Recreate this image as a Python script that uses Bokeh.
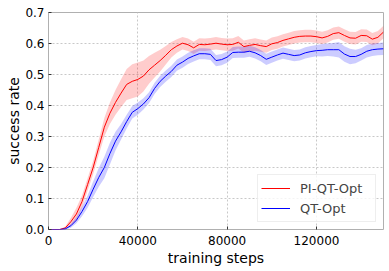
import numpy as np
from bokeh.plotting import figure
from bokeh.models import ColumnDataSource, FixedTicker, NumeralTickFormatter, Legend, LegendItem, Range1d
from bokeh.embed import file_html
from bokeh.resources import INLINE

steps = list(range(0, 150001, 2500))

pi_qt_opt_mean = [0.0, 0.0, 0.0, 0.005, 0.025, 0.05, 0.09, 0.145, 0.2, 0.265,
                  0.33, 0.375, 0.41, 0.44, 0.468, 0.478, 0.484, 0.495, 0.515, 0.53,
                  0.545, 0.562, 0.58, 0.592, 0.601, 0.596, 0.586, 0.597, 0.596, 0.598,
                  0.601, 0.598, 0.596, 0.597, 0.604, 0.59, 0.594, 0.597, 0.593, 0.59,
                  0.599, 0.603, 0.61, 0.615, 0.62, 0.623, 0.624, 0.624, 0.622, 0.618,
                  0.623, 0.632, 0.635, 0.626, 0.618, 0.617, 0.626, 0.625, 0.614, 0.62,
                  0.637]
pi_qt_opt_err = [0.0, 0.0, 0.0, 0.005, 0.012, 0.02, 0.02, 0.02, 0.022, 0.025,
                 0.03, 0.035, 0.04, 0.045, 0.05, 0.055, 0.055, 0.05, 0.045, 0.04,
                 0.035, 0.03, 0.025, 0.022, 0.02, 0.02, 0.02, 0.02, 0.02, 0.02,
                 0.02, 0.02, 0.02, 0.02, 0.02, 0.02, 0.02, 0.02, 0.02, 0.02,
                 0.02, 0.02, 0.02, 0.02, 0.02, 0.02, 0.02, 0.02, 0.02, 0.02,
                 0.02, 0.02, 0.02, 0.02, 0.02, 0.02, 0.02, 0.02, 0.02, 0.02,
                 0.02]
qt_opt_mean = [0.0, 0.0, 0.0, 0.002, 0.012, 0.03, 0.058, 0.09, 0.13, 0.168,
               0.2, 0.245, 0.285, 0.315, 0.348, 0.378, 0.39, 0.405, 0.425, 0.455,
               0.478, 0.495, 0.51, 0.53, 0.54, 0.552, 0.56, 0.567, 0.567, 0.565,
               0.545, 0.548, 0.556, 0.571, 0.572, 0.572, 0.575, 0.57, 0.561, 0.549,
               0.556, 0.563, 0.569, 0.565, 0.561, 0.563, 0.57, 0.574, 0.577, 0.578,
               0.58, 0.58, 0.58, 0.566, 0.558, 0.558, 0.565, 0.575, 0.58, 0.582,
               0.583]
qt_opt_err = [0.0, 0.0, 0.0, 0.003, 0.006, 0.01, 0.015, 0.02, 0.025, 0.03,
              0.035, 0.035, 0.03, 0.025, 0.022, 0.02, 0.02, 0.018, 0.018, 0.018,
              0.018, 0.018, 0.018, 0.018, 0.018, 0.018, 0.018, 0.018, 0.018, 0.018,
              0.018, 0.018, 0.018, 0.018, 0.018, 0.018, 0.018, 0.018, 0.018, 0.018,
              0.018, 0.018, 0.018, 0.018, 0.018, 0.018, 0.018, 0.018, 0.018, 0.02,
              0.02, 0.022, 0.025, 0.025, 0.025, 0.022, 0.02, 0.02, 0.02, 0.02,
              0.02]

x_ticks = [0, 40000, 80000, 120000]
y_ticks = [0.0, 0.1, 0.2, 0.3, 0.4, 0.5, 0.6, 0.7]

FONT = "DejaVu Sans"

src = ColumnDataSource(dict(
    x=steps,
    r=pi_qt_opt_mean,
    r_lo=[m - e for m, e in zip(pi_qt_opt_mean, pi_qt_opt_err)],
    r_hi=[m + e for m, e in zip(pi_qt_opt_mean, pi_qt_opt_err)],
    b=qt_opt_mean,
    b_lo=[m - e for m, e in zip(qt_opt_mean, qt_opt_err)],
    b_hi=[m + e for m, e in zip(qt_opt_mean, qt_opt_err)],
))

p = figure(width=389, height=271, output_backend="svg", toolbar_location=None,
           x_range=Range1d(0, 150000), y_range=Range1d(0, 0.7),
           min_border_left=48, min_border_right=6, min_border_top=12, min_border_bottom=42)

p.varea(x="x", y1="r_lo", y2="r_hi", source=src, fill_color="red", fill_alpha=0.2)
p.varea(x="x", y1="b_lo", y2="b_hi", source=src, fill_color="blue", fill_alpha=0.2)
lr = p.line(x="x", y="r", source=src, line_color="red", line_width=1)
lb = p.line(x="x", y="b", source=src, line_color="blue", line_width=1)

p.xaxis.ticker = FixedTicker(ticks=x_ticks)
p.yaxis.ticker = FixedTicker(ticks=y_ticks)
p.yaxis.formatter = NumeralTickFormatter(format="0.0")
p.xaxis.formatter = NumeralTickFormatter(format="0")
p.xaxis.axis_label = "training steps"
p.yaxis.axis_label = "success rate"

for ax in (p.xaxis, p.yaxis):
    ax.axis_label_text_font = FONT
    ax.axis_label_text_font_size = "14px"
    ax.axis_label_text_font_style = "normal"
    ax.axis_label_text_color = "#000000"
    ax.major_label_text_font = FONT
    ax.major_label_text_font_size = "12px"
    ax.major_label_text_color = "#000000"
    ax.axis_line_color = None
    ax.major_tick_in = 3
    ax.major_tick_out = 0
    ax.major_tick_line_color = "#333333"
    ax.minor_tick_line_color = None
p.xaxis.major_label_standoff = 6
p.xaxis.axis_label_standoff = 2
p.yaxis.major_label_standoff = 4
p.yaxis.axis_label_standoff = 0

p.outline_line_color = "#b0b0b0"
p.outline_line_width = 1
p.xgrid.grid_line_color = "#c8c8c8"
p.ygrid.grid_line_color = "#c8c8c8"
p.xgrid.grid_line_dash = "2 2"
p.ygrid.grid_line_dash = "2 2"
p.background_fill_color = "white"
p.border_fill_color = "white"

legend = Legend(items=[LegendItem(label="PI-QT-Opt", renderers=[lr]),
                       LegendItem(label="QT-Opt", renderers=[lb])],
                location="bottom_right")
legend.label_text_font = FONT
legend.label_text_font_size = "13px"
legend.glyph_width = 29
legend.glyph_height = 20
legend.label_standoff = 10
legend.label_width = 72
legend.spacing = 0
legend.padding = 3
legend.margin = 7
legend.border_line_color = "#dddddd"
legend.background_fill_alpha = 0.8
p.add_layout(legend)

open("out.html", "w").write(file_html(p, INLINE))
